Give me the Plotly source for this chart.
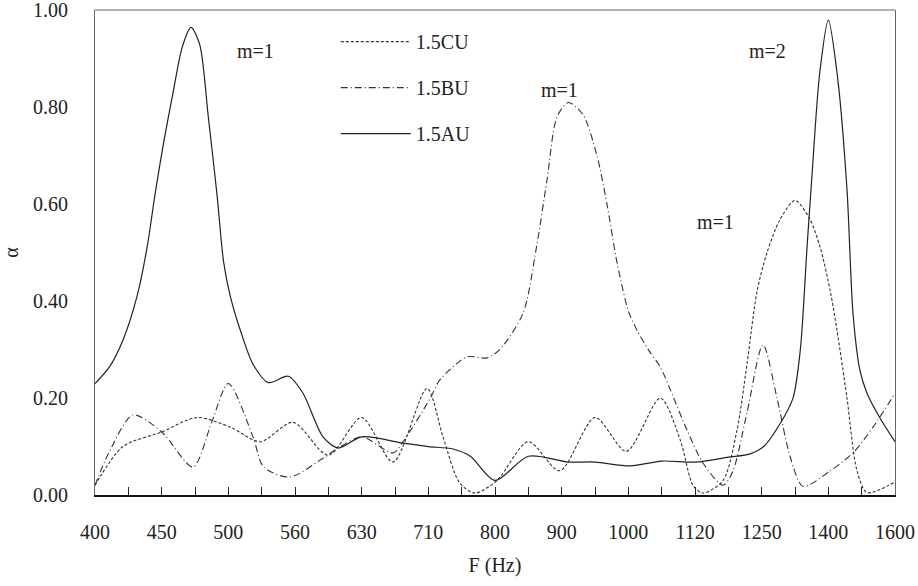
import plotly.graph_objects as go

# Band labels (evenly spaced positions 0..12)
band_labels = ["400", "450", "500", "560", "630", "710", "800", "900",
               "1000", "1120", "1250", "1400", "1600"]

# 1.5CU (dotted)
cu_pos = [0, 0.42, 1.0, 1.53, 2.03, 2.48, 2.97, 3.5, 4.0, 4.47, 4.98, 5.22,
          5.47, 5.7, 6.03, 6.5, 6.97, 7.5, 7.97, 8.48, 8.78, 8.97, 9.12,
          9.42, 9.63, 9.78, 9.93, 10.08, 10.27, 10.5, 10.72, 10.88, 11.03,
          11.13, 11.28, 11.43, 11.58, 12.0]
cu_alpha = [0.02, 0.10, 0.13, 0.16, 0.14, 0.11, 0.15, 0.082, 0.16, 0.068,
            0.22, 0.12, 0.025, 0.004, 0.03, 0.11, 0.05, 0.16, 0.09, 0.20,
            0.113, 0.02, 0.004, 0.03, 0.134, 0.27, 0.42, 0.50, 0.567, 0.608,
            0.57, 0.51, 0.42, 0.34, 0.20, 0.05, 0.005, 0.027]

# 1.5BU (dash-dot)
bu_pos = [0, 0.2, 0.57, 1.0, 1.47, 1.75, 2.0, 2.37, 2.53, 2.92, 3.42, 3.65,
          4.0, 4.47, 4.62, 5.03, 5.17, 5.58, 5.88, 6.07, 6.42, 6.62, 6.78,
          6.93, 7.1, 7.32, 7.53, 7.68, 7.83, 8.0, 8.13, 8.3, 8.48, 8.63,
          8.88, 9.12, 9.42, 9.57, 9.78, 10.02, 10.23, 10.43, 10.62, 11.03,
          11.37, 11.67, 12.0]
bu_alpha = [0.02, 0.085, 0.165, 0.13, 0.058, 0.15, 0.23, 0.12, 0.058, 0.037,
            0.076, 0.097, 0.12, 0.087, 0.11, 0.20, 0.237, 0.285, 0.283, 0.30,
            0.375, 0.51, 0.65, 0.78, 0.81, 0.785, 0.70, 0.60, 0.48, 0.38,
            0.34, 0.30, 0.264, 0.217, 0.134, 0.066, 0.02, 0.05, 0.17, 0.31,
            0.20, 0.078, 0.018, 0.05, 0.087, 0.14, 0.21]

# 1.5AU (solid)
au_pos = [0, 0.22, 0.42, 0.63, 0.78, 0.9, 1.02, 1.17, 1.31, 1.44, 1.57, 1.70,
          1.83, 1.93, 2.03, 2.18, 2.37, 2.6, 2.9, 3.12, 3.42, 3.65, 4.0,
          4.62, 5.0, 5.37, 5.63, 6.0, 6.5, 7.1, 7.5, 8.03, 8.5, 9.0, 9.5,
          9.83, 10.03, 10.28, 10.47, 10.58, 10.68, 10.75, 10.87, 11.0,
          11.14, 11.28, 11.37, 11.47, 11.58, 11.77, 12.0]
au_alpha = [0.23, 0.265, 0.32, 0.41, 0.51, 0.62, 0.72, 0.83, 0.925, 0.965,
            0.93, 0.78, 0.62, 0.48, 0.41, 0.34, 0.27, 0.232, 0.245, 0.21,
            0.12, 0.097, 0.12, 0.107, 0.10, 0.095, 0.08, 0.03, 0.08, 0.068,
            0.068, 0.06, 0.07, 0.068, 0.078, 0.085, 0.10, 0.148, 0.20, 0.30,
            0.51, 0.65, 0.87, 0.98, 0.86, 0.63, 0.375, 0.26, 0.21, 0.16, 0.11]

y_ticks = [0.0, 0.2, 0.4, 0.6, 0.8, 1.0]

# mode annotations: (position, alpha, text)
mode_pos = [2.4, 6.97, 10.08, 9.31]
mode_alpha = [0.917, 0.835, 0.917, 0.563]
mode_text = ["m=1", "m=1", "m=2", "m=1"]

FONT = "Liberation Serif, DejaVu Serif, serif"
INK = "#222222"
FS = 20

fig = go.Figure()
fig.add_trace(go.Scatter(x=cu_pos, y=cu_alpha, mode="lines", name="1.5CU",
                         legendgroup="cu",
                         line=dict(color="#333333", width=1.1, dash="3px,2px",
                                   shape="spline", smoothing=0.8)))
fig.add_trace(go.Scatter(x=bu_pos, y=bu_alpha, mode="lines", name="1.5BU",
                         legendgroup="bu",
                         line=dict(color="#333333", width=1.1,
                                   dash="7px,3px,1px,3px",
                                   shape="spline", smoothing=0.8)))
fig.add_trace(go.Scatter(x=au_pos, y=au_alpha, mode="lines", name="1.5AU",
                         legendgroup="au",
                         line=dict(color="#222222", width=1.2,
                                   shape="spline", smoothing=0.8)))

# tick positions every half band, labels on whole bands
tick_vals = [i * 0.5 for i in range(2 * (len(band_labels) - 1) + 1)]
tick_text = [band_labels[int(v)] if v == int(v) else "" for v in tick_vals]

for p, a, t in zip(mode_pos, mode_alpha, mode_text):
    fig.add_annotation(x=p, y=a, text=t, showarrow=False,
                       font=dict(family=FONT, size=FS, color=INK))

fig.add_shape(type="line", xref="paper", yref="paper", x0=0, x1=1, y0=1, y1=1,
              line=dict(color="#666666", width=1))

fig.update_layout(
    width=918, height=586,
    margin=dict(l=95, r=23, t=10, b=91, autoexpand=False),
    paper_bgcolor="white", plot_bgcolor="white",
    font=dict(family=FONT, size=FS, color=INK),
    showlegend=True,
    legend=dict(x=0.301, y=0.975, xanchor="left", yanchor="top",
                bgcolor="rgba(0,0,0,0)", itemwidth=70,
                tracegroupgap=17, font=dict(family=FONT, size=FS, color=INK)),
    xaxis=dict(range=[0, 12], tickmode="array", tickvals=tick_vals,
               ticktext=tick_text, ticks="inside", ticklen=8, tickwidth=1,
               tickcolor="#222222", showgrid=False, zeroline=False,
               showline=True, linecolor="#111111", linewidth=1.6,
               ticklabelstandoff=18, automargin=False,
               ticklabeloverflow="allow",
               title=dict(text="F (Hz)", standoff=16,
                          font=dict(family=FONT, size=FS, color=INK))),
    yaxis=dict(range=[0, 1.001], tickmode="array", tickvals=y_ticks,
               ticktext=[f"{v:.2f}" for v in y_ticks], ticks="",
               showgrid=False, zeroline=False, showline=True,
               linecolor="#666666", linewidth=1, mirror=True,
               ticklabelstandoff=22, automargin=False,
               ticklabeloverflow="allow",
               title=dict(text="α", standoff=17,
                          font=dict(family=FONT, size=FS, color=INK))),
)

fig.write_html("out.html",
               config={"displayModeBar": False},
               post_script="document.body.style.margin='0px';")
